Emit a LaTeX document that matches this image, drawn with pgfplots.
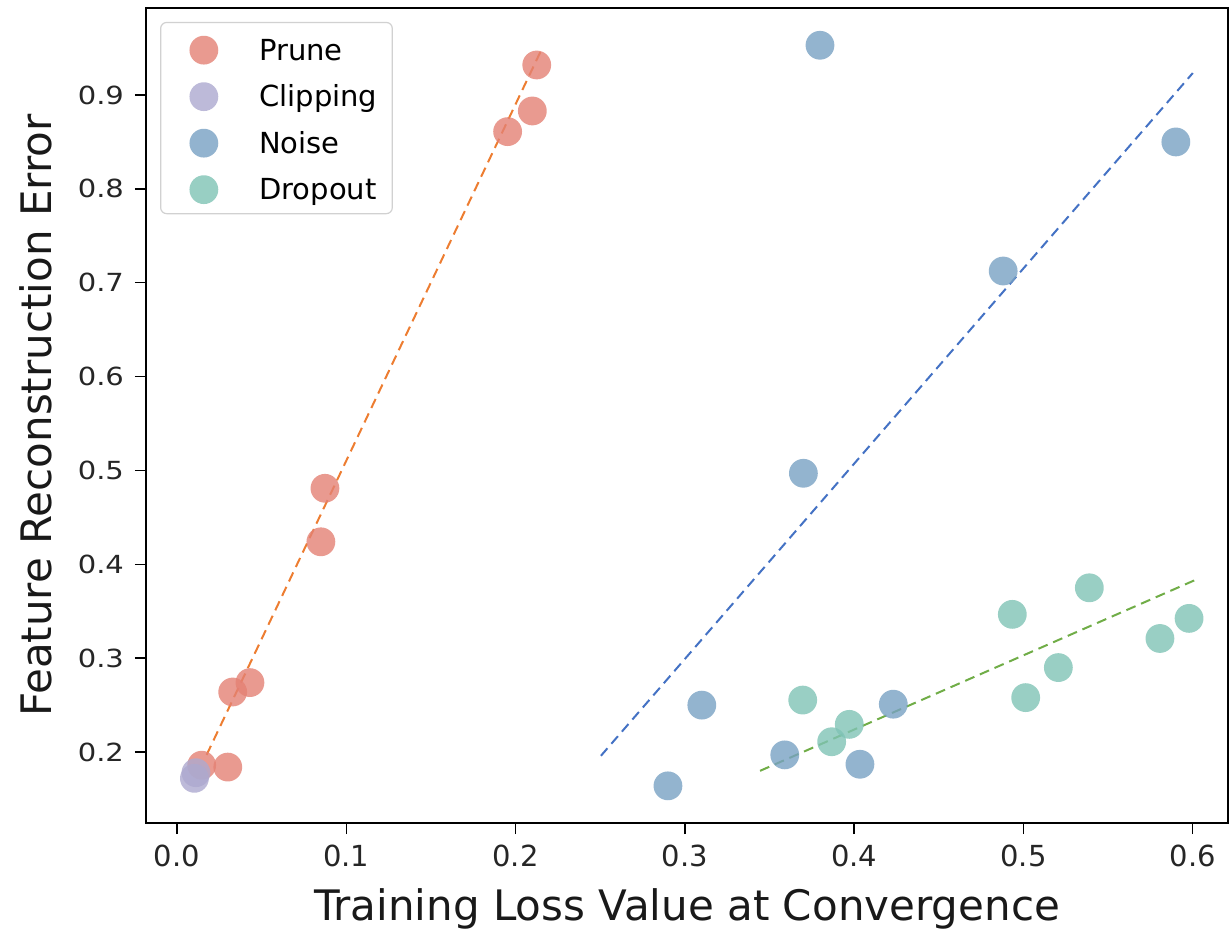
\documentclass[border=0pt]{standalone}
\usepackage{pgfplots}
\pgfplotsset{compat=1.18}
\usepackage{fontspec}
\setmainfont{DejaVu Sans}
\definecolor{cPrune}{RGB}{228,129,116}
\definecolor{cClip}{RGB}{173,169,207}
\definecolor{cNoise}{RGB}{120,161,195}
\definecolor{cDrop}{RGB}{127,195,181}
\definecolor{lOrange}{RGB}{237,125,49}
\definecolor{lBlue}{RGB}{68,114,196}
\definecolor{lGreen}{RGB}{112,173,71}
\pgfplotsset{dot/.style={only marks, mark=*, mark size=7.2pt, color=#1, mark options={fill=#1, draw opacity=0, line width=0pt, fill opacity=0.8}}}
\begin{document}
\begin{tikzpicture}
\begin{axis}[
  scale only axis,
  width=541pt, height=407.5pt,
  xmin=-0.0183, xmax=0.6208,
  ymin=0.1244, ymax=0.9927,
  xtick={0,0.1,...,0.6},
  ytick={0.2,0.3,...,0.9},
  /pgf/number format/assume math mode=true,
  /pgf/number format/fixed,
  /pgf/number format/fixed zerofill,
  /pgf/number format/precision=1,
  tick label style={font=\fontsize{14.5}{17}\selectfont, text=black!85},
  xticklabel style={yshift=-2pt},
  yticklabel style={xshift=-2pt, yscale=0.86},
  tick align=outside,
  major tick length=5.5pt,
  every tick/.style={black, line width=0.7pt},
  xtick pos=bottom, ytick pos=left,
  axis line style={black, line width=0.7pt},
  xlabel={Training Loss Value at Convergence},
  ylabel={Feature Reconstruction Error},
  every axis x label/.style={at={(axis description cs:0.5,-0.1202)}, anchor=base, font=\fontsize{21}{25}\selectfont, text=black!90},
  every axis y label/.style={at={(axis description cs:-0.1017,0.5)}, anchor=center, rotate=90, font=\fontsize{21}{25}\selectfont, text=black!90},
  legend cell align=left,
  legend image code/.code={\path (0pt,0pt) -- (0pt,0pt); \draw[#1] plot coordinates {(13.8pt,5pt)};},
  legend style={
    at={(axis description cs:0.013,0.983)}, anchor=north west,
    draw=black!18, line width=0.6pt, rounded corners=3pt, fill=white, fill opacity=0.8, text opacity=1,
    font=\fontsize{14.5}{17}\selectfont,
    inner xsep=7.5pt, inner ysep=4pt,
    row sep=5.4pt, column sep=20.5pt,
    cells={anchor=base west},
    nodes={inner sep=0pt, text height=14.85pt, text depth=3pt},
  },
]
\addplot[dot=cPrune] coordinates {
(0.2125,0.932) (0.2099,0.883) (0.1953,0.861) (0.0874,0.481) (0.0850,0.424)
(0.0431,0.274) (0.0329,0.264) (0.0300,0.184) (0.0146,0.186)
};
\addlegendentry{Prune}
\addplot[dot=cClip] coordinates {
(0.0112,0.178) (0.0103,0.172)
};
\addlegendentry{Clipping}
\addplot[dot=cNoise] coordinates {
(0.3798,0.953) (0.590,0.850) (0.488,0.7125) (0.370,0.497) (0.310,0.250)
(0.290,0.164) (0.359,0.197) (0.4034,0.187) (0.4231,0.251)
};
\addlegendentry{Noise}
\addplot[dot=cDrop] coordinates {
(0.3696,0.2554) (0.3971,0.2295) (0.3867,0.211) (0.4934,0.3467) (0.5389,0.375)
(0.5206,0.290) (0.5013,0.258) (0.5806,0.321) (0.5978,0.3424)
};
\addlegendentry{Dropout}
\addplot[lOrange, line width=1pt, dash pattern=on 5pt off 3pt, forget plot] coordinates {(0.0175,0.197) (0.216,0.951)};
\addplot[lBlue, line width=1pt, dash pattern=on 5pt off 3pt, forget plot] coordinates {(0.2504,0.196) (0.600,0.9234)};
\addplot[lGreen, line width=1pt, dash pattern=on 5pt off 3pt, forget plot] coordinates {(0.3444,0.180) (0.6023,0.384)};
\end{axis}
\path (current axis.south west) ++(-73pt,-54pt) coordinate (bbA);
\path (current axis.north east) ++(1pt,4pt) coordinate (bbB);
\path (bbA) rectangle (bbB);
\end{tikzpicture}
\end{document}
